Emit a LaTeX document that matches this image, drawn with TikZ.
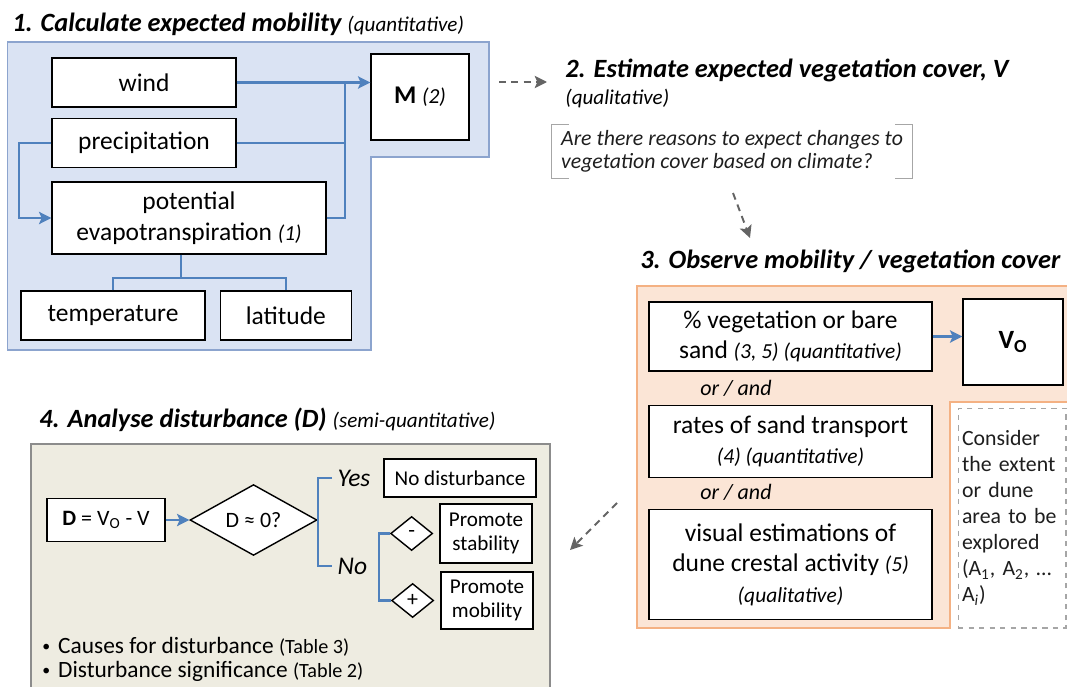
\documentclass[tikz,border=0pt]{standalone}
\usepackage{fontspec}
\setmainfont{Carlito}
\usepackage{tikz}
\usetikzlibrary{shapes.geometric, arrows, arrows.meta}
\usetikzlibrary{positioning}
\definecolor{linkblue}{RGB}{79,129,189}
\definecolor{panelblue}{RGB}{218,227,243}
\definecolor{panelblueline}{RGB}{140,164,206}
\definecolor{panelorange}{RGB}{251,229,214}
\definecolor{panelorangeline}{RGB}{244,177,131}
\definecolor{panelgray}{RGB}{238,236,225}
\definecolor{panelgrayline}{RGB}{140,140,140}
\definecolor{arrowgray}{RGB}{100,100,100}
\definecolor{bracketgray}{RGB}{166,166,166}
\definecolor{textdark}{RGB}{30,30,30}
\newcommand{\ital}[1]{{\fontsize{12.2}{14}\selectfont\itshape #1}}
\newcommand{\bulletdot}{{\fontsize{9}{10}\selectfont\raisebox{0.25ex}{•}}\hspace{0.16cm}}
\tikzstyle{process} = [rectangle, draw=black, fill=white, line width=0.8pt, text centered, align=center, inner sep=1pt, font=\fontsize{14.5}{17.5}\selectfont]
\tikzstyle{minor} = [process, font=\fontsize{12}{13.7}\selectfont]
\tikzstyle{decision} = [diamond, draw=black, fill=white, line width=0.8pt, inner sep=0pt, font=\fontsize{12.5}{14}\selectfont]
\tikzstyle{heading} = [anchor=base west, inner sep=0pt, font=\fontsize{15}{18}\selectfont\bfseries\itshape]
\tikzstyle{note} = [anchor=base west, inner sep=0pt, font=\fontsize{12}{14}\selectfont\itshape]
\tikzstyle{answer} = [anchor=west, inner sep=3pt, font=\fontsize{14.5}{16}\selectfont\itshape]
\tikzstyle{orand} = [inner sep=0pt, font=\fontsize{12.5}{14}\selectfont\itshape]
\tikzstyle{bullet} = [anchor=base west, inner sep=0pt, font=\fontsize{13.3}{16}\selectfont]
\tikzstyle{arrow} = [line width=1.3pt, ->, >={Stealth[length=7pt, width=7pt, inset=1.5pt]}, draw=linkblue]
\tikzstyle{link} = [line width=1.3pt, draw=linkblue]
\tikzstyle{flow} = [line width=1.1pt, ->, >={Stealth[length=7pt, width=7pt, inset=1.5pt]}, draw=arrowgray, dash pattern=on 4pt off 3pt]
\tikzstyle{brk} = [line width=0.8pt, draw=bracketgray]

\begin{document}
\begin{tikzpicture}[x=0.02cm, y=-0.02cm]

\useasboundingbox (0,0) rectangle (1067,686);

\filldraw [fill=panelblue, draw=panelblueline, line width=0.8pt] (7.6,42) -- (489,42) -- (489,157) -- (371,157) -- (371,350) -- (7.6,350) -- cycle;
\filldraw [fill=panelorange, draw=panelorangeline, line width=0.8pt] (637,286) -- (1075,286) -- (1075,402) -- (950,402) -- (950,628) -- (637,628) -- cycle;
\filldraw [fill=panelgray, draw=panelgrayline, line width=0.8pt] (31,444) rectangle (550,695);

\node (t1) [heading] at (12,32) {1. Calculate expected mobility {\mdseries\fontsize{12}{14}\selectfont (quantitative)}};

\node (wind) [process, minimum width=3.68cm, minimum height=0.98cm] at (144,82.5) {wind};

\node (prec) [process, minimum width=3.68cm, minimum height=0.98cm, below=0.2cm of wind] {precipitation};

\node (pet) [process, minimum width=5.48cm, minimum height=1.44cm] at (189,218) {potential\\evapotranspiration \ital{(1)}};

\node (temp) [process, minimum width=3.68cm, minimum height=0.98cm] at (113,315.5) {temperature};

\node (lat) [process, minimum width=2.62cm, minimum height=0.98cm, right=0.28cm of temp] {latitude};

\node (mval) [process, minimum width=1.96cm, minimum height=1.72cm] at (420,97) {\textbf{M} \ital{(2)}};

\coordinate (jn) at (345,82.5);

\draw [arrow] (wind.east) -- (wind.east -| mval.west);
\draw [link] (prec.east) -| (jn);
\draw [link] (pet.east) -| (jn);
\draw [arrow] (prec.west) -- ++(-32,0) |- (pet.west);
\draw [link] ([xshift=-0.16cm]pet.south) -- ++(0,23) coordinate (jt);
\draw [link] (temp.north) |- (jt) -| (lat.north);

\node (t2) [heading] at (565,77) {2. Estimate expected vegetation cover, V};

\node (t2b) [note] at (565,104) {(qualitative)};

\node (quest) [minimum width=7.2cm, minimum height=1.06cm, align=left, text=textdark, font=\fontsize{12.4}{13}\selectfont\itshape] at (732,151.5) {Are there reasons to expect changes to\\vegetation cover based on climate?};

\draw [brk] ([xshift=0.34cm]quest.north west) -- (quest.north west) -- (quest.south west) -- ([xshift=0.34cm]quest.south west);
\draw [brk] ([xshift=-0.34cm]quest.north east) -- (quest.north east) -- (quest.south east) -- ([xshift=-0.34cm]quest.south east);

\coordinate (d1a) at (499,82);
\coordinate (d1b) at (547,82);
\coordinate (d2a) at (733,193);
\coordinate (d2b) at (750,238);
\coordinate (d3a) at (617,503);
\coordinate (d3b) at (570,550);

\draw [flow] (d1a) -- (d1b);
\draw [flow] (d2a) -- (d2b);
\draw [flow] (d3a) -- (d3b);

\node (t3) [heading] at (640,268) {3. Observe mobility / vegetation cover};

\node (veg) [process, minimum width=5.66cm, minimum height=1.38cm] at (790.5,336.5) {\% vegetation or bare\\sand \ital{(3, 5) (quantitative)}};

\node (vo) [process, minimum width=2.0cm, minimum height=1.72cm, font=\fontsize{15}{18}\selectfont\bfseries] at (1013,342) {V\textsubscript{O}};

\node (rates) [process, minimum width=5.66cm, minimum height=1.44cm, below=0.66cm of veg] {rates of sand transport\\\ital{(4) (quantitative)}};

\node (visual) [process, minimum width=5.66cm, minimum height=2.2cm, below=0.62cm of rates] {visual estimations of\\dune crestal activity \ital{(5)}\\\ital{(qualitative)}};

\node (or1) [orand] at (736,388) {or / and};

\node (or2) [orand] at (736,492) {or / and};

\node (area) [draw=bracketgray, dashed, fill=white, line width=0.6pt, minimum width=2.16cm, minimum height=4.4cm, text width=2.0cm, inner xsep=0.08cm, align=left, text=textdark, font=\fontsize{12.4}{14.8}\selectfont] at (1012,518) {Consider\\the extent\\or dune\\area to be\\explored\\(A\textsubscript{1}, A\textsubscript{2}, …\\A\textsubscript{\textit{i}})};

\draw [arrow] (veg.east) -- (veg.east -| vo.west);

\node (t4) [heading] at (39,427) {4. Analyse disturbance (D) {\mdseries\fontsize{12}{14}\selectfont (semi-quantitative)}};

\node (dval) [process, minimum width=2.36cm, minimum height=0.86cm, font=\fontsize{12.5}{14}\selectfont] at (106,520) {\textbf{D} = V\textsubscript{O} - V};

\node (dia) [decision, minimum width=2.54cm, minimum height=1.08cm] at (253.5,520) {D ≈ 0?};

\node (yes) [answer] at (332,478) {Yes};

\node (no) [answer] at (332,566) {No};

\node (nodist) [minor, minimum width=3.04cm, minimum height=0.76cm] at (460,478) {No disturbance};

\node (stab) [minor, minimum width=1.84cm, minimum height=1.18cm] at (486,533.5) {Promote\\stability};

\node (mob) [minor, minimum width=1.84cm, minimum height=1.14cm] at (487,600.5) {Promote\\mobility};

\node (minus) [decision, minimum width=0.84cm, minimum height=0.68cm, left=0.12cm of stab] {-};

\node (plus) [decision, minimum width=0.84cm, minimum height=0.68cm, left=0.12cm of mob] {+};

\draw [arrow] (dval.east) -- (dia.west);
\draw [link] (yes.west) -| (dia.east) |- (no.west);
\draw [link] (minus.west) -- ++(-11,0) |- (plus.west);

\node (cause) [bullet] at (42,653) {\bulletdot Causes for disturbance {\fontsize{11.5}{14}\selectfont(Table 3)}};

\node (signif) [bullet] at (42,677) {\bulletdot Disturbance significance {\fontsize{11.5}{14}\selectfont(Table 2)}};

\end{tikzpicture}
\end{document}
